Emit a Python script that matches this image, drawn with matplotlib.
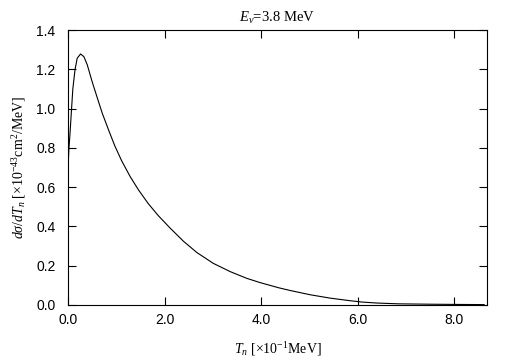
import matplotlib
matplotlib.use("Agg")
import matplotlib.pyplot as plt
import numpy as np

tn = [0.0, 0.005, 0.02, 0.04, 0.07, 0.10, 0.145, 0.19, 0.26, 0.33, 0.40, 0.50,
      0.61, 0.71, 0.85, 0.97, 1.11, 1.285, 1.46, 1.66, 1.87, 2.11, 2.39, 2.67,
      3.01, 3.36, 3.70, 3.98, 4.36, 4.60, 5.02, 5.43, 5.84, 6.09, 6.40, 6.84,
      7.5, 8.0, 8.62]
dsig = [0.56, 0.72, 0.80, 0.866, 0.984, 1.10, 1.197, 1.256, 1.278, 1.264, 1.222, 1.137,
        1.052, 0.976, 0.885, 0.81, 0.735, 0.655, 0.586, 0.517, 0.455, 0.393, 0.325, 0.267,
        0.212, 0.170, 0.136, 0.114, 0.088, 0.074, 0.052, 0.035, 0.022, 0.015, 0.010, 0.006,
        0.004, 0.003, 0.002]
xticks = [0, 2, 4, 6, 8]
yticks = [0.0, 0.2, 0.4, 0.6, 0.8, 1.0, 1.2, 1.4]

plt.rcParams['mathtext.fontset'] = 'custom'
plt.rcParams['mathtext.rm'] = 'Liberation Serif'
plt.rcParams['mathtext.it'] = 'Liberation Serif:italic'
plt.rcParams['font.family'] = 'Liberation Serif'

fig = plt.figure(figsize=(5.05, 3.61), dpi=100)
ax = fig.add_axes([68/505, 56/361, 419/505, 275/361])

ax.plot(tn, dsig, color='black', lw=0.8)

ax.set_xlim(0, 8.68)
ax.set_ylim(0, 1.4)
ax.set_xticks(xticks)
ax.set_xticklabels(['%.1f' % v for v in xticks], family='Liberation Sans', fontsize=10)
ax.set_yticks(yticks)
ax.set_yticklabels(['%.1f' % v for v in yticks], family='Liberation Sans', fontsize=10)
ax.tick_params(direction='in', length=6, width=0.8, top=True, right=True, pad=6)
ax.tick_params(axis='y', pad=9)
for s in ax.spines.values():
    s.set_linewidth(0.8)

ax.set_title(r'$E_\nu$=3.8 MeV', fontsize=10.5, pad=6)
ax.set_xlabel(r'$T_n$ [$\times$10$^{-1}$MeV]', fontsize=10, labelpad=9)
ax.set_ylabel(r'$d\sigma/dT_n$ [$\times$10$^{-43}$cm$^2$/MeV]', fontsize=10, labelpad=6)

fig.savefig('out.png', dpi=100)
